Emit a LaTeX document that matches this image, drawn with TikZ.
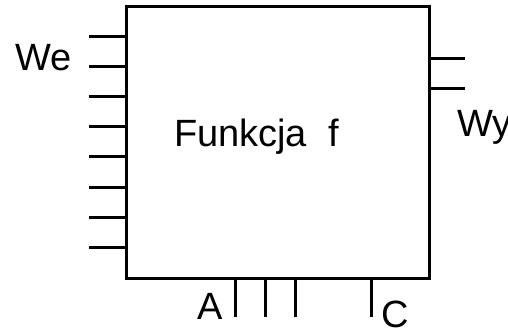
\documentclass[tikz,border=0pt]{standalone}
\usepackage{fontspec}
\setmainfont{Liberation Sans}
\begin{document}
\begin{tikzpicture}[x=1pt,y=-1pt,
  pinline/.style={line width=3pt},
  lbl/.style={anchor=base west, inner sep=0pt, outer sep=0pt,
    font=\fontsize{38}{40}\selectfont}]
\useasboundingbox (0,0) rectangle (508,331);
% the function block
\node[draw, line width=3pt, minimum width=303pt, minimum height=271pt,
  inner sep=0pt, outer sep=0pt] (box) at (277.5,142.5) {};
% input pins on the left side
\foreach \y [count=\i] in {37,67,...,247}{
  \coordinate (in\i) at (89,\y);
  \draw[pinline] (box.west |- in\i) -- (in\i);
}
% output pins on the right side
\foreach \y [count=\i] in {59,89}{
  \coordinate (out\i) at (465,\y);
  \draw[pinline] (box.east |- out\i) -- (out\i);
}
% control pins at the bottom
\foreach \x [count=\i] in {235,265,295,371}{
  \coordinate (ctl\i) at (\x,317);
  \draw[pinline] (box.south -| ctl\i) -- (ctl\i);
}
% labels
\node[lbl] (we) at (15,71) {We};
\node[lbl] (fn) at (174,147) {Funkcja\hspace{0.56em}f};
\node[lbl] (wy) at (457,137) {Wy};
\node[lbl] (a) at (197,319) {A};
\node[lbl] (c) at (381,327) {C};
\end{tikzpicture}
\end{document}
